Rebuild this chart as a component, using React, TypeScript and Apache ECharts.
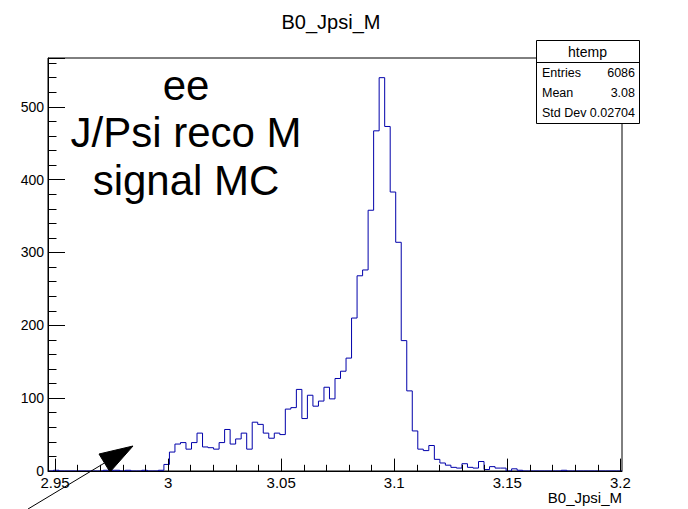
import React, { useEffect, useRef } from "react";
import * as echarts from "echarts";

// Histogram axis range (ROOT htemp) and bin contents
const X_MIN = 2.9469;
const X_MAX = 3.2007;
const N_BINS = 104;

const binCounts: number[] = [
  0, 1, 0, 0, 0, 0, 0, 0, 0, 0,
  1, 1, 1, 0, 1, 0, 0, 1, 0, 0,
  1, 9, 26, 37, 39, 30, 39, 52, 33, 32,
  30, 39, 57, 37, 44, 52, 30, 67, 64, 52,
  45, 52, 50, 85, 87, 112, 72, 104, 89, 96,
  115, 99, 127, 137, 155, 210, 268, 276, 358, 467,
  540, 473, 383, 314, 179, 110, 55, 30, 28, 35,
  16, 11, 8, 5, 4, 10, 5, 4, 13, 2,
  6, 4, 4, 0, 3, 1, 0, 0, 0, 0,
  0, 0, 0, 1, 0, 0, 0, 0, 0, 0,
  0, 0, 0, 0,
];

const xMajorTicks: number[] = [2.95, 3, 3.05, 3.1, 3.15, 3.2];
const xMinorTicks: number[] = [
  2.96, 2.97, 2.98, 2.99, 3.01, 3.02, 3.03, 3.04, 3.06, 3.07, 3.08, 3.09,
  3.11, 3.12, 3.13, 3.14, 3.16, 3.17, 3.18, 3.19,
];
const yMax = 567;
const yInterval = 100;

const titleText = "B0_Jpsi_M";
const xTitleText = "B0_Jpsi_M";
const noteLines: string[] = ["ee", "J/Psi reco M", "signal MC"];
const statsTitle = "htemp";
const statsLabels: string[] = ["Entries", "Mean", "Std Dev"];
const statsValues: string[] = ["6086", "3.08", "0.02704"];

const FONT = "'Liberation Sans', Arial, Helvetica, sans-serif";

export default function App() {
  const ref = useRef<HTMLDivElement>(null);

  useEffect(() => {
    if (!ref.current) return;
    const chart = echarts.init(ref.current, null, { renderer: "svg" });

    const binW = (X_MAX - X_MIN) / N_BINS;
    const outline: number[][] = [];
    binCounts.forEach((c, k) => {
      const left = X_MIN + k * binW;
      const right = X_MIN + (k + 1) * binW;
      outline.push([left, c], [right, c]);
    });

    const gridL = 48, gridT = 58, gridW = 574, gridH = 413;

    const statsX = 536, statsY = 40, statsW = 103, statsH = 83;
    const statsGraphics: any[] = [
      {
        type: "rect",
        shape: { x: statsX + 0.5, y: statsY + 0.5, width: statsW, height: statsH },
        style: { fill: "#fff", stroke: "#000", lineWidth: 1 },
        z: 20,
      },
      {
        type: "line",
        shape: { x1: statsX, y1: 62.5, x2: statsX + statsW, y2: 62.5 },
        style: { stroke: "#000", lineWidth: 1 },
        z: 21,
      },
      {
        type: "text",
        x: statsX + statsW / 2,
        y: 51.5,
        style: {
          text: statsTitle,
          font: `14px ${FONT}`,
          fill: "#000",
          textAlign: "center",
          textVerticalAlign: "middle",
        },
        z: 21,
      },
    ];
    statsLabels.forEach((lab, i) => {
      const cy = 73 + i * 20;
      statsGraphics.push({
        type: "text",
        x: statsX + 6,
        y: cy,
        style: { text: lab, font: `12.5px ${FONT}`, fill: "#000", textAlign: "left", textVerticalAlign: "middle" },
        z: 21,
      });
      statsGraphics.push({
        type: "text",
        x: statsX + statsW - 4,
        y: cy,
        style: { text: statsValues[i], font: `12.5px ${FONT}`, fill: "#000", textAlign: "right", textVerticalAlign: "middle" },
        z: 21,
      });
    });

    const noteGraphics = noteLines.map((t, i) => ({
      type: "text",
      x: 186,
      y: 106 + i * 47.5,
      style: {
        text: t,
        font: `42px ${FONT}`,
        fill: "#000",
        textAlign: "center",
        textVerticalAlign: "bottom",
      },
      z: 15,
    }));

    chart.setOption({
      animation: false,
      backgroundColor: "#fff",
      grid: {
        left: gridL,
        top: gridT,
        width: gridW,
        height: gridH,
        show: true,
        borderColor: "#000",
        borderWidth: 1,
        backgroundColor: "transparent",
        containLabel: false,
      },
      xAxis: [
        {
          type: "value",
          min: X_MIN,
          max: X_MAX,
          position: "bottom",
          z: 5,
          axisLine: { show: true, onZero: false, lineStyle: { color: "#000", width: 1 } },
          axisTick: {
            show: true,
            inside: true,
            length: 12.4,
            customValues: xMajorTicks,
            lineStyle: { color: "#000", width: 1 },
          },
          axisLabel: {
            show: true,
            customValues: xMajorTicks,
            color: "#000",
            fontSize: 15,
            fontFamily: FONT,
            margin: 4,
          },
          splitLine: { show: false },
        },
        {
          type: "value",
          min: X_MIN,
          max: X_MAX,
          position: "bottom",
          z: 5,
          axisLine: { show: false },
          axisTick: {
            show: true,
            inside: true,
            length: 6.2,
            customValues: xMinorTicks,
            lineStyle: { color: "#000", width: 1 },
          },
          axisLabel: { show: false },
          splitLine: { show: false },
        },
      ],
      yAxis: {
        type: "value",
        min: 0,
        max: yMax,
        interval: yInterval,
        z: 5,
        axisLine: { show: true, onZero: false, lineStyle: { color: "#000", width: 1 } },
        axisTick: { show: true, inside: true, length: 17, lineStyle: { color: "#000", width: 1 } },
        minorTick: { show: true, splitNumber: 5, length: 8.5, lineStyle: { color: "#000", width: 1 } },
        axisLabel: {
          color: "#000",
          fontSize: 14,
          fontFamily: FONT,
          margin: 4,
          showMaxLabel: false,
        },
        splitLine: { show: false },
        minorSplitLine: { show: false },
      },
      series: [
        {
          type: "line",
          xAxisIndex: 0,
          yAxisIndex: 0,
          data: outline,
          symbol: "none",
          lineStyle: { color: "#0000aa", width: 1 },
          clip: true,
          z: 2,
        },
      ],
      graphic: [
        {
          type: "text",
          x: 331,
          y: 22,
          style: {
            text: titleText,
            font: `20px ${FONT}`,
            fill: "#000",
            textAlign: "center",
            textVerticalAlign: "middle",
          },
        },
        {
          type: "text",
          x: 622,
          y: 497,
          style: {
            text: xTitleText,
            font: `15px ${FONT}`,
            fill: "#000",
            textAlign: "right",
            textVerticalAlign: "middle",
          },
        },
        ...noteGraphics,
        ...statsGraphics,
        {
          type: "line",
          shape: { x1: 28, y1: 509, x2: 104.5, y2: 463 },
          style: { stroke: "#000", lineWidth: 1 },
          z: 30,
        },
        {
          type: "polygon",
          shape: { points: [[133, 446], [99, 454], [110, 472]] },
          style: { fill: "#000", stroke: "#000", lineWidth: 1 },
          z: 30,
        },
      ],
    });

    return () => chart.dispose();
  }, []);

  return (
    <div
      ref={ref}
      style={{ position: "fixed", left: 0, top: 0, width: 688, height: 509, background: "#fff" }}
    />
  );
}
